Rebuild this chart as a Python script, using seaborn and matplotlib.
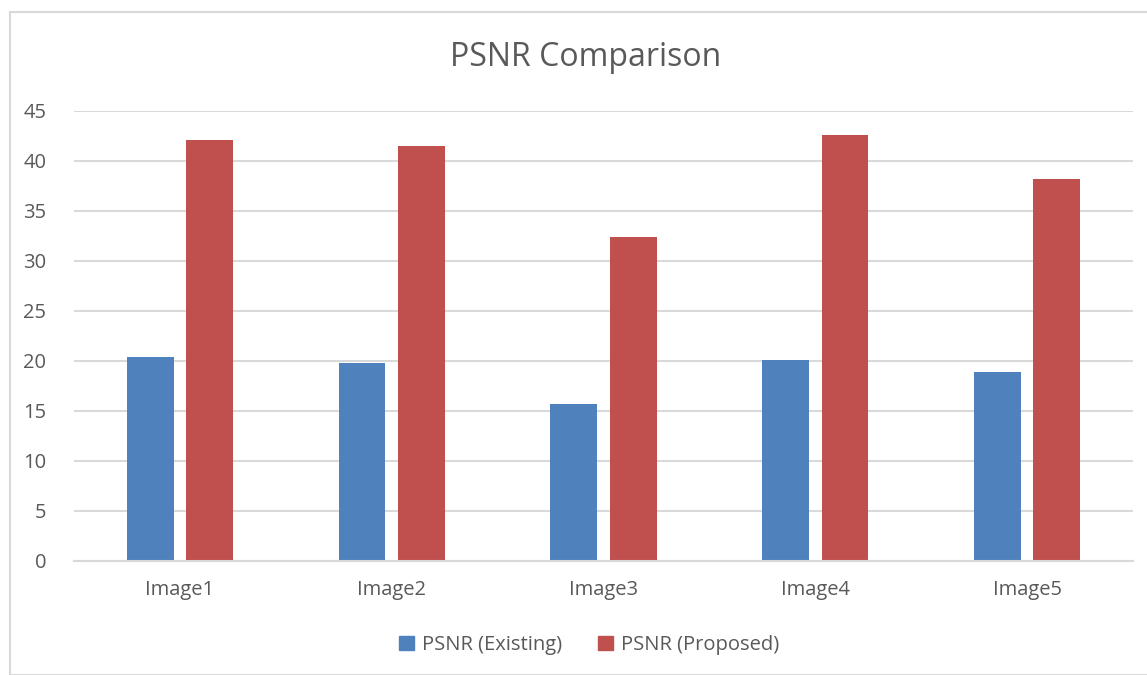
import matplotlib
matplotlib.use("Agg")
import matplotlib.pyplot as plt
import matplotlib.patches as mpatches
import seaborn as sns
import pandas as pd

# values
images = ["Image1", "Image2", "Image3", "Image4", "Image5"]
psnr_existing = [20.4, 19.85, 15.75, 20.1, 18.95]
psnr_proposed = [42.1, 41.55, 32.4, 42.6, 38.2]
series = ["PSNR (Existing)", "PSNR (Proposed)"]
colors = ["#4F81BD", "#C0504D"]

df = pd.DataFrame({
    "image": images * 2,
    "psnr": psnr_existing + psnr_proposed,
    "series": [series[0]] * len(images) + [series[1]] * len(images),
})

sns.set_style("white")
plt.rcParams["font.family"] = ["Open Sans", "DejaVu Sans"]
text_color = "#595959"
grid_color = "#D9D9D9"

fig = plt.figure(figsize=(11.47, 6.75), dpi=100)
ax = fig.add_axes([74 / 1147, 1 - 561 / 675, (1133 - 74) / 1147, (561 - 111) / 675])

sns.barplot(data=df, x="image", y="psnr", hue="series", palette=colors,
            width=0.56, gap=0.21, saturation=1, ax=ax, legend=False,
            edgecolor="none")

ax.set_ylim(0, 45)
ax.set_yticks(range(0, 46, 5))
ax.yaxis.grid(True, color=grid_color, linewidth=1.5)
ax.set_axisbelow(True)
for s in ["top", "right", "left"]:
    ax.spines[s].set_visible(False)
ax.spines["bottom"].set_color(grid_color)
ax.spines["bottom"].set_linewidth(1.5)
ax.tick_params(axis="both", length=0, labelsize=14.5, colors=text_color)
ax.tick_params(axis="y", pad=20)
ax.tick_params(axis="x", pad=14)
ax.set_xlabel("")
ax.set_ylabel("")

fig.text(586 / 1147, 1 - 57 / 675, "PSNR Comparison", ha="center", va="center",
         fontsize=23, color=text_color)

handles = [mpatches.Patch(color=c, label=l) for c, l in zip(colors, series)]
fig.legend(handles=handles, loc="center", bbox_to_anchor=(589 / 1147, 1 - 645 / 675),
           ncol=2, frameon=False, fontsize=14.5, labelcolor=text_color,
           handlelength=0.75, handleheight=0.75, handletextpad=0.4, columnspacing=1.8)

# outer chart-area border
fig.patches.append(mpatches.Rectangle((10 / 1147, 0), 1.0, 1 - 12 / 675,
                                      transform=fig.transFigure, fill=False,
                                      edgecolor=grid_color, linewidth=1.5))

fig.savefig("out.png", dpi=100)
